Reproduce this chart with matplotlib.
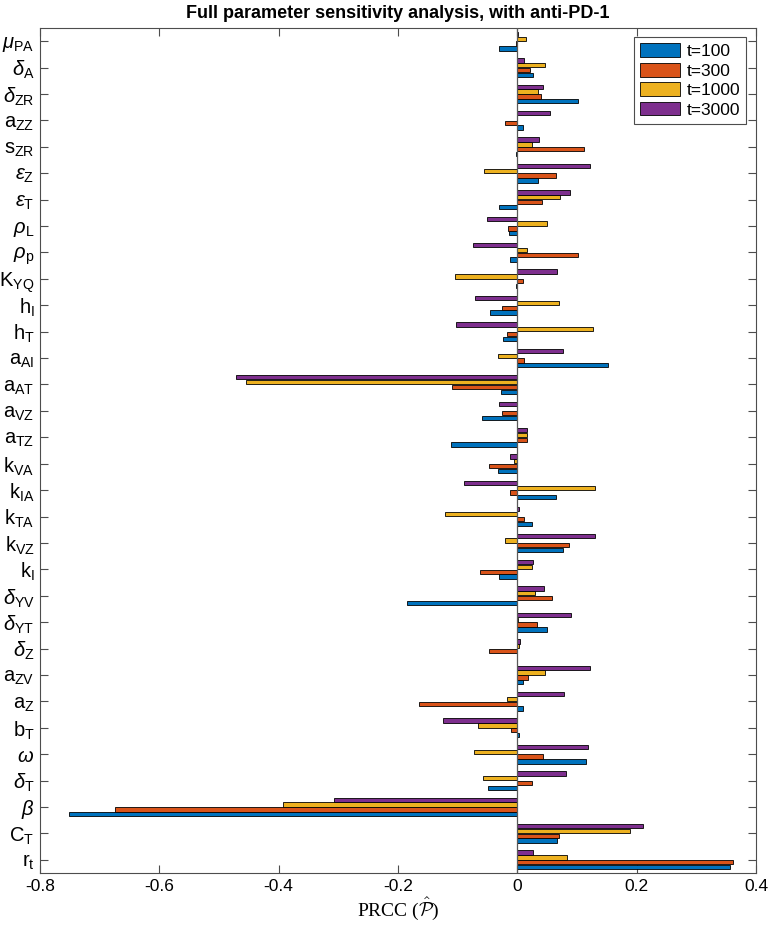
import numpy as np
import matplotlib
matplotlib.use('Agg')
import matplotlib.pyplot as plt

plt.rcParams['font.family'] = ['Liberation Sans', 'DejaVu Sans']
plt.rcParams['mathtext.fontset'] = 'custom'
plt.rcParams['mathtext.rm'] = 'Liberation Sans'
plt.rcParams['mathtext.it'] = 'Liberation Sans:italic'
plt.rcParams['mathtext.bf'] = 'Liberation Sans:bold'

# parameters, listed top to bottom as in the figure
params = [r'$\mu_{\mathrm{PA}}$', r'$\delta_{\mathrm{A}}$', r'$\delta_{\mathrm{ZR}}$',
          r'$\mathrm{a}_{\mathrm{ZZ}}$', r'$\mathrm{s}_{\mathrm{ZR}}$', r'$\epsilon_{\mathrm{Z}}$',
          r'$\epsilon_{\mathrm{T}}$', r'$\rho_{\mathrm{L}}$', r'$\rho_{\mathrm{p}}$',
          r'$\mathrm{K}_{\mathrm{YQ}}$', r'$\mathrm{h}_{\mathrm{I}}$', r'$\mathrm{h}_{\mathrm{T}}$',
          r'$\mathrm{a}_{\mathrm{AI}}$', r'$\mathrm{a}_{\mathrm{AT}}$', r'$\mathrm{a}_{\mathrm{VZ}}$',
          r'$\mathrm{a}_{\mathrm{TZ}}$', r'$\mathrm{k}_{\mathrm{VA}}$', r'$\mathrm{k}_{\mathrm{IA}}$',
          r'$\mathrm{k}_{\mathrm{TA}}$', r'$\mathrm{k}_{\mathrm{VZ}}$', r'$\mathrm{k}_{\mathrm{I}}$',
          r'$\delta_{\mathrm{YV}}$', r'$\delta_{\mathrm{YT}}$', r'$\delta_{\mathrm{Z}}$',
          r'$\mathrm{a}_{\mathrm{ZV}}$', r'$\mathrm{a}_{\mathrm{Z}}$', r'$\mathrm{b}_{\mathrm{T}}$',
          r'$\omega$', r'$\delta_{\mathrm{T}}$', r'$\beta$',
          r'$\mathrm{C}_{\mathrm{T}}$', r'$\mathrm{r}_{\mathrm{t}}$']

t100 = [-0.030, 0.027, 0.102, 0.009, -0.003, 0.035, -0.030, -0.014, -0.012, -0.002,
        -0.045, -0.024, 0.152, -0.028, -0.059, -0.111, -0.033, 0.064, 0.025, 0.076,
        -0.030, -0.185, 0.049, 0.000, 0.010, 0.009, 0.003, 0.115, -0.049, -0.751,
        0.066, 0.356]
t300 = [-0.002, 0.022, 0.040, -0.021, 0.111, 0.064, 0.042, -0.016, 0.101, 0.010,
        -0.025, -0.017, 0.012, -0.110, -0.025, 0.017, -0.047, -0.012, 0.012, 0.087,
        -0.063, 0.058, 0.033, -0.048, 0.018, -0.165, -0.011, 0.043, 0.025, -0.675,
        0.070, 0.361]
t1000 = [0.014, 0.046, 0.035, 0.000, 0.024, -0.056, 0.071, 0.050, 0.016, -0.104,
         0.069, 0.127, -0.032, -0.454, 0.000, 0.016, -0.005, 0.130, -0.122, -0.020,
         0.025, 0.029, 0.001, 0.003, 0.046, -0.017, -0.066, -0.072, -0.057, -0.392,
         0.189, 0.084]
t3000 = [0.001, 0.012, 0.043, 0.054, 0.037, 0.122, 0.089, -0.050, -0.075, 0.067,
         -0.071, -0.102, 0.077, -0.471, -0.030, 0.016, -0.012, -0.090, 0.002, 0.130,
         0.027, 0.044, 0.090, 0.005, 0.122, 0.078, -0.124, 0.118, 0.082, -0.307,
         0.210, 0.027]

series = [t100, t300, t1000, t3000]
names = ['t=100', 't=300', 't=1000', 't=3000']
colors = ['#0072BD', '#D95319', '#EDB120', '#7E2F8E']

fig = plt.figure(figsize=(7.68, 9.25), dpi=100)
ax = fig.add_axes([40 / 768, 52 / 925, 716 / 768, 845 / 925])

n = len(params)
pos = np.arange(n, 0, -1)
slot = 0.182
for k, (vals, lab, c) in enumerate(zip(series, names, colors)):
    ax.barh(pos + (k - 1.5) * slot, vals, height=slot * 0.9, color=c,
            edgecolor='black', linewidth=0.6, label=lab, zorder=2)

ax.axvline(0, color='0.35', lw=0.9, zorder=3)

ax.set_xlim(-0.8, 0.4)
ax.set_ylim(0.5, n + 0.5)
ax.set_xticks(np.arange(-0.8, 0.41, 0.2))
ax.set_xticklabels(['-0.8', '-0.6', '-0.4', '-0.2', '0', '0.2', '0.4'])
ax.set_yticks(pos)
ax.set_yticklabels(params)
ax.tick_params(axis='x', direction='in', top=True, length=6, width=0.8,
               labelsize=12.5, pad=4, color='0.3')
ax.tick_params(axis='y', direction='in', right=True, length=6, width=0.8,
               labelsize=14.5, pad=4, color='0.3')
for s in ax.spines.values():
    s.set_color('0.3')
    s.set_linewidth(0.8)

ax.set_title('Full parameter sensitivity analysis, with anti-PD-1',
             fontsize=13, fontweight='bold', pad=7)
ax.set_xlabel(r'PRCC ($\hat{\mathcal{P}}$)', fontsize=14,
              fontfamily='Liberation Serif', math_fontfamily='cm', labelpad=1)

leg = ax.legend(loc='upper right', fontsize=12.5, handlelength=2.3,
                handleheight=0.85, borderpad=0.35, labelspacing=0.2,
                handletextpad=0.35, borderaxespad=0, fancybox=False,
                framealpha=1, bbox_to_anchor=(0.986, 0.989))
leg.get_frame().set_edgecolor('0.3')
leg.get_frame().set_linewidth(0.8)

fig.savefig('out.png', dpi=100)
